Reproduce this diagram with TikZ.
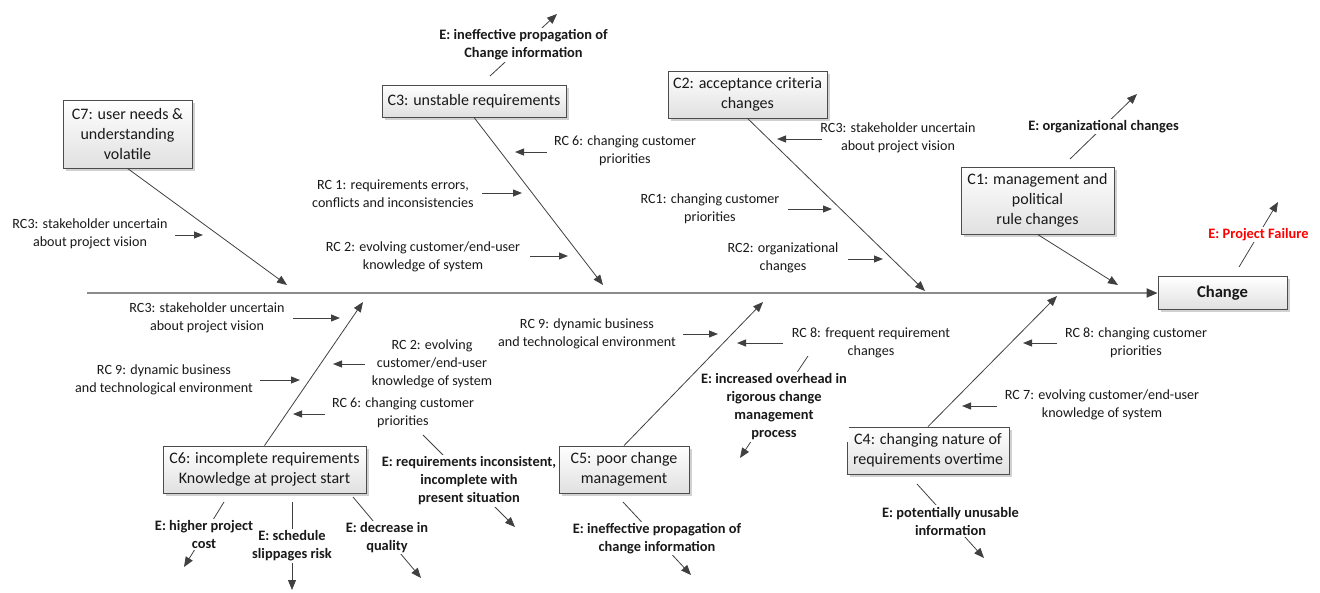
\documentclass[tikz,border=0pt]{standalone}
\usepackage{fontspec}
\setmainfont{Carlito}
\usetikzlibrary{arrows.meta,shadows}
\begin{document}
\begin{tikzpicture}[x=1pt,y=-1pt,
  lbl/.style={font=\fontsize{14.1}{18}\selectfont, align=center, inner sep=1pt, text=black!90},
  elbl/.style={font=\fontsize{14.4}{18}\selectfont\bfseries, align=center, fill=white, inner xsep=2pt, inner ysep=1.5pt, text=black!90},
  box/.style={draw=black!70, line width=0.8pt, top color=white, bottom color=black!12,
    drop shadow={shadow xshift=2.5pt, shadow yshift=-2.5pt, fill=black!30, opacity=0.6},
    font=\fontsize{16}{20}\selectfont, align=center, inner sep=0pt, text=black!90},
  bone/.style={draw=black!75, line width=0.8pt, -{Triangle[length=10pt,width=8pt]}},
  rcarrow/.style={draw=black!75, line width=1pt, -{Triangle[length=9pt,width=7pt]}},
  earrow/.style={draw=black!75, line width=0.8pt, -{Triangle[length=10pt,width=8pt]}},
  spine/.style={draw=black!45, line width=2pt, -{Triangle[length=11pt,width=9pt,color=black!75]}}
]
\useasboundingbox (0,0) rectangle (1320,592);

% boxes
\node[box, minimum width=129, minimum height=68] (c7) at (127.5,134) {C7: user needs \&\\understanding\\volatile};
\node[box, minimum width=184, minimum height=32] (c3) at (474,101) {C3: unstable requirements};
\node[box, minimum width=159, minimum height=47] (c2) at (747.5,94.5) {C2: acceptance criteria\\changes};
\node[box, minimum width=153, minimum height=67] (c1) at (1037.5,200.5) {C1: management and\\political\\rule changes};
\node[box, minimum width=129, minimum height=33, font=\fontsize{16.6}{20}\selectfont\bfseries] (chg) at (1222.5,293) {Change};
\node[box, minimum width=203, minimum height=47] (c6) at (264.5,469.5) {C6: incomplete requirements\\Knowledge at project start};
\node[box, minimum width=130, minimum height=47] (c5) at (624,469.5) {C5: poor change\\management};
\node[box, minimum width=162, minimum height=47] (c4) at (928,450.5) {C4: changing nature of\\requirements overtime};

% spine
\coordinate (sp) at (87,293);
\draw[spine] (sp) -- (chg.west);

% bones
\coordinate (b7) at (287,285);
\coordinate (b3) at (603,285);
\coordinate (b2) at (925,291);
\coordinate (b1) at (1118,285);
\coordinate (b6) at (363,302);
\coordinate (b5) at (763,302);
\coordinate (b4) at (1057,296);
\draw[bone] (c7.south) -- (b7);
\draw[bone] (c3.south) -- (b3);
\draw[bone] (c2.south) -- (b2);
\draw[bone] (c1.south) -- (b1);
\draw[bone] (c6.north) -- (b6);
\draw[bone] (c5.north) -- (b5);
\draw[bone] (c4.north) -- (b4);

% RC labels and arrows
\node[lbl] (r71) at (90,234) {RC3: stakeholder uncertain\\about project vision};
\coordinate (r71s) at (175,235); \coordinate (r71e) at (203,235);
\draw[rcarrow] (r71s) -- (r71e);

\node[lbl] (r36) at (625,151) {RC 6: changing customer\\priorities};
\coordinate (r36s) at (547,152); \coordinate (r36e) at (515,152);
\draw[rcarrow] (r36s) -- (r36e);
\node[lbl] (r31) at (393,194) {RC 1: requirements errors,\\conflicts and inconsistencies};
\coordinate (r31s) at (482,193); \coordinate (r31e) at (522,193);
\draw[rcarrow] (r31s) -- (r31e);
\node[lbl] (r32) at (423,257) {RC 2: evolving customer/end-user\\knowledge of system};
\coordinate (r32s) at (530,256); \coordinate (r32e) at (568,256);
\draw[rcarrow] (r32s) -- (r32e);

\node[lbl] (r23) at (898,138) {RC3: stakeholder uncertain\\about project vision};
\coordinate (r23s) at (822,139); \coordinate (r23e) at (777,139);
\draw[rcarrow] (r23s) -- (r23e);
\node[lbl] (r21) at (710,209) {RC1: changing customer\\priorities};
\coordinate (r21s) at (788,209); \coordinate (r21e) at (832,209);
\draw[rcarrow] (r21s) -- (r21e);
\node[lbl] (r22) at (783,258) {RC2: organizational\\changes};
\coordinate (r22s) at (848,259); \coordinate (r22e) at (883,259);
\draw[rcarrow] (r22s) -- (r22e);

\node[lbl] (r63) at (207,318) {RC3: stakeholder uncertain\\about project vision};
\coordinate (r63s) at (293,318); \coordinate (r63e) at (340,318);
\draw[rcarrow] (r63s) -- (r63e);
\node[lbl] (r69) at (164,380) {RC 9: dynamic business\\and technological environment};
\coordinate (r69s) at (260,380); \coordinate (r69e) at (300,380);
\draw[rcarrow] (r69s) -- (r69e);
\node[lbl] (r62) at (432,364) {RC 2: evolving\\customer/end-user\\knowledge of system};
\coordinate (r62s) at (365,364); \coordinate (r62e) at (333,364);
\draw[rcarrow] (r62s) -- (r62e);
\node[lbl] (r66) at (403,413) {RC 6: changing customer\\priorities};
\coordinate (r66s) at (325,414); \coordinate (r66e) at (293,414);
\draw[rcarrow] (r66s) -- (r66e);

\node[lbl] (r59) at (587,334) {RC 9: dynamic business\\and technological environment};
\coordinate (r59s) at (683,334); \coordinate (r59e) at (718,334);
\draw[rcarrow] (r59s) -- (r59e);
\node[lbl] (r58) at (871,343) {RC 8: frequent requirement\\changes};
\coordinate (r58s) at (783,343); \coordinate (r58e) at (737,343);
\draw[rcarrow] (r58s) -- (r58e);

\node[lbl] (r48) at (1136,343) {RC 8: changing customer\\priorities};
\coordinate (r48s) at (1057,343); \coordinate (r48e) at (1023,343);
\draw[rcarrow] (r48s) -- (r48e);
\node[lbl] (r47) at (1102,405) {RC 7: evolving customer/end-user\\knowledge of system};
\coordinate (r47s) at (997,406); \coordinate (r47e) at (962,406);
\draw[rcarrow] (r47s) -- (r47e);

% effects
\coordinate (e3s) at (490,76); \coordinate (e3e) at (557,14);
\draw[earrow] (e3s) -- (e3e) node[midway, elbl] (e3) {E: ineffective propagation of\\Change information};
\coordinate (e1s) at (1070,159); \coordinate (e1e) at (1137,94);
\draw[earrow] (e1s) -- (e1e) node[midway, elbl] (e1) {E: organizational changes};
\coordinate (eps) at (1239,267); \coordinate (epe) at (1278,202);
\draw[earrow] (eps) -- (epe) node[midway, elbl, text=red] (ep) {E: Project Failure};
\coordinate (e6bs) at (292,502); \coordinate (e6be) at (292,590);
\draw[earrow] (e6bs) -- (e6be) node[midway, elbl] (e6b) {E: schedule\\slippages risk};
\coordinate (e6as) at (224,502); \coordinate (e6ae) at (184,567);
\draw[earrow] (e6as) -- (e6ae) node[midway, elbl, inner xsep=0pt] (e6a) {E: higher project\\cost};
\coordinate (e6cs) at (353,497); \coordinate (e6ce) at (421,578);
\draw[earrow] (e6cs) -- (e6ce) node[midway, elbl] (e6c) {E: decrease in\\quality};
\coordinate (e6ds) at (423,435); \coordinate (e6de) at (515,527);
\draw[earrow] (e6ds) -- (e6de) node[midway, elbl] (e6d) {E: requirements inconsistent,\\incomplete with\\present situation};
\coordinate (e5as) at (808,356); \coordinate (e5ae) at (740,458);
\draw[earrow] (e5as) -- (e5ae) node[midway, elbl] (e5a) {E: increased overhead in\\rigorous change\\management\\process};
\coordinate (e5bs) at (623,502); \coordinate (e5be) at (691,575);
\draw[earrow] (e5bs) -- (e5be) node[midway, elbl] (e5b) {E: ineffective propagation of\\change information};
\coordinate (e4s) at (917,484); \coordinate (e4e) at (984,558);
\draw[earrow] (e4s) -- (e4e) node[midway, elbl] (e4) {E: potentially unusable\\information};
\end{tikzpicture}
\end{document}
